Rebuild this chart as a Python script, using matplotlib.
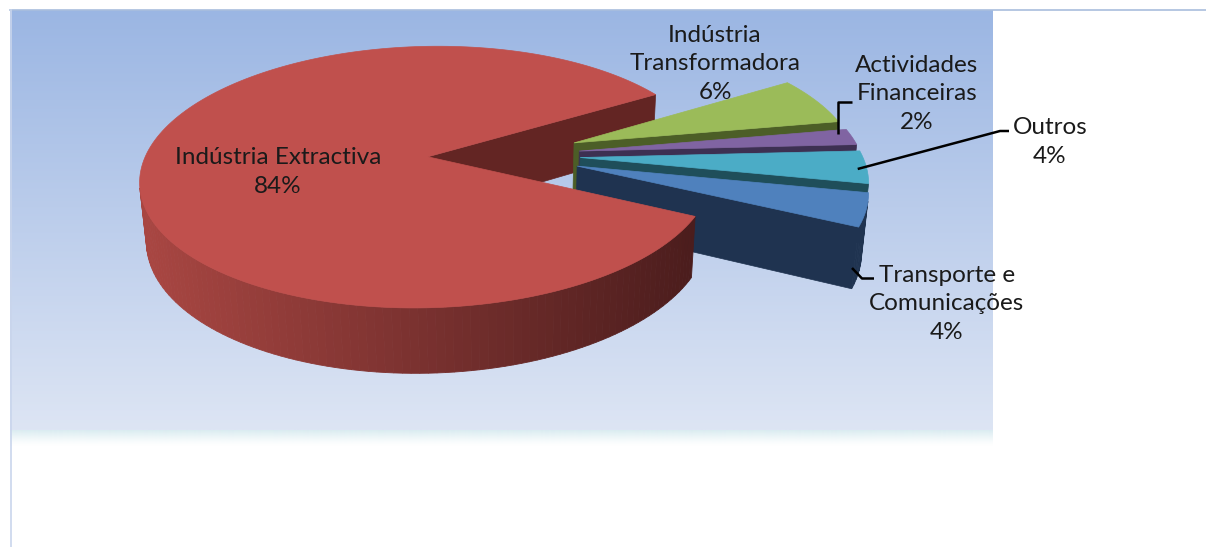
import numpy as np
import matplotlib
matplotlib.use("Agg")
import matplotlib.pyplot as plt
from matplotlib.patches import Polygon

# ---------------- data ----------------
categories = ["Transporte e\nComunicações", "Indústria Extractiva",
              "Indústria\nTransformadora", "Actividades\nFinanceiras", "Outros"]
values = [4, 84, 6, 2, 4]
pct_labels = ["4%", "84%", "6%", "2%", "4%"]

top_colors = ["#4F81BD", "#C0504D", "#9BBB59", "#8064A2", "#4BACC6"]
side_colors = ["#1F3350", "#632523", "#4C5E27", "#3D3052", "#1F4E5A"]

# ---------------- geometry ----------------
W, H = 1206, 547
fig = plt.figure(figsize=(W / 100, H / 100), dpi=100)
ax = fig.add_axes([0, 0, 1, 1])
ax.set_xlim(0, W)
ax.set_ylim(H, 0)
ax.axis("off")

# background gradient panel
grad = np.linspace(0, 1, 256)[:, None]
c_top = np.array([0x9B, 0xB6, 0xE3]) / 255
c_bot = np.array([0xDD, 0xE5, 0xF4]) / 255
img = c_top[None, None, :] * (1 - grad[..., None]) + c_bot[None, None, :] * grad[..., None]
img = np.repeat(img, 2, axis=1)
ax.imshow(img, extent=[10, 993, 430, 10], aspect="auto", zorder=0, interpolation="bilinear")
# soft glow at the bottom of the panel
g = np.linspace(0, 1, 64)
glow = np.zeros((64, 2, 4))
glow[..., 0], glow[..., 1], glow[..., 2] = 0xDA / 255, 0xEC / 255, 0xF1 / 255
glow[..., 3] = np.clip(1 - g, 0, 1)[:, None] ** 1.3
ax.imshow(glow, extent=[10, 993, 446, 430], aspect="auto", zorder=0.5, interpolation="bilinear")
ax.plot([10, W], [10, 10], color="#A9BEDD", lw=1.2, zorder=5)
ax.plot([10.5, 10.5], [10, H], color="#C9D5EC", lw=1.2, zorder=5)

# 3D projection
cx, cy, K = 504.0, 155.0, 282.0
elev = np.radians(26.8)
Dcam = 5.77
depth = 0.235
explode = 0.27
se, ce = np.sin(elev), np.cos(elev)
cam = np.array([0.0, -Dcam * ce, Dcam * se])


def proj(X, Y, Z):
    v = Y * se + Z * ce
    w = Y * ce - Z * se
    s = Dcam / (Dcam + w)
    return cx + K * X * s, cy - K * v * s


def poly2d(pts3):
    return np.array([proj(*p) for p in pts3])


def visible(pts3, normal):
    c = np.mean(np.array(pts3), axis=0)
    return np.dot(normal, cam - c) > 0


def shade_red(x):
    lt = np.array([0xA8, 0x46, 0x42]) / 255
    dk = np.array([0x4A, 0x1C, 0x1C]) / 255
    t = np.clip((x - 150) / (700 - 150), 0, 1)
    return lt * (1 - t) + dk * t


# slice angles (clockwise, start at -11.4 deg)
start = -11.4
total = float(sum(values))
angles = []
a = start
for v in values:
    span = 360.0 * v / total
    angles.append((a, a - span))
    a -= span


def slice_faces(i):
    a0, a1 = np.radians(angles[i][0]), np.radians(angles[i][1])
    bis = 0.5 * (a0 + a1)
    ox, oy = explode * np.cos(bis), explode * np.sin(bis)
    n = max(8, int(abs(np.degrees(a0 - a1)) / 1.5))
    ts = np.linspace(a0, a1, n)
    rim = [(ox + np.cos(t), oy + np.sin(t)) for t in ts]
    top = [(ox, oy, 0.0)] + [(x, y, 0.0) for x, y in rim]
    cuts = []
    for t, nrm in ((a0, np.array([-np.sin(a0), np.cos(a0), 0])),
                   (a1, np.array([np.sin(a1), -np.cos(a1), 0]))):
        p = [(ox, oy, 0.0), (ox + np.cos(t), oy + np.sin(t), 0.0),
             (ox + np.cos(t), oy + np.sin(t), -depth), (ox, oy, -depth)]
        if visible(p, nrm):
            cuts.append(p)
    sides = []
    for k in range(n - 1):
        t0, t1 = ts[k], ts[k + 1]
        p = [(ox + np.cos(t0), oy + np.sin(t0), 0.0), (ox + np.cos(t1), oy + np.sin(t1), 0.0),
             (ox + np.cos(t1), oy + np.sin(t1), -depth), (ox + np.cos(t0), oy + np.sin(t0), -depth)]
        tm = 0.5 * (t0 + t1)
        if visible(p, np.array([np.cos(tm), np.sin(tm), 0])):
            sides.append(p)
    return top, cuts, sides, (ox, oy, bis)


z = 1.0
faces = {i: slice_faces(i) for i in range(len(values))}
big = int(np.argmax(values))

# big slice's cut faces first (they sit behind the exploded small slices)
for p in faces[big][1]:
    ax.add_patch(Polygon(poly2d(p), closed=True, fc=side_colors[big], ec=side_colors[big], lw=0.5, zorder=z))
z += 1

# small slices back to front
small = [i for i in range(len(values)) if i != big]
small.sort(key=lambda i: -np.sin(faces[i][3][2]))
for i in small:
    top, cuts, sides, _ = faces[i]
    for p in cuts + sides:
        ax.add_patch(Polygon(poly2d(p), closed=True, fc=side_colors[i], ec=side_colors[i], lw=0.5, zorder=z))
    ax.add_patch(Polygon(poly2d(top), closed=True, fc=top_colors[i], ec=top_colors[i], lw=0.5, zorder=z + 0.5))
    z += 1

# big slice outer side & top
top, cuts, sides, _ = faces[big]
for p in sides:
    q = poly2d(p)
    col = shade_red(q[:, 0].mean())
    ax.add_patch(Polygon(q, closed=True, fc=col, ec=col, lw=0.6, zorder=z))
ax.add_patch(Polygon(poly2d(top), closed=True, fc=top_colors[big], ec=top_colors[big], lw=0.5, zorder=z + 0.5))
z += 1

# ---------------- labels ----------------
font = dict(family=["Lato", "DejaVu Sans"], fontsize=17.5, color="#1a1a1a", ha="center", va="center",
            linespacing=1.42, zorder=z + 2)
label_pos = {0: (947, 304), 1: (278, 172), 2: (715, 64), 3: (917, 94), 4: (1050, 142)}
for i, (x, y) in label_pos.items():
    ax.text(x, y, f"{categories[i]}\n{pct_labels[i]}", **font)


def rim_point(i, frac_z=0.0):
    ox, oy, bis = faces[i][3]
    return proj(ox + np.cos(bis), oy + np.sin(bis), -depth * frac_z)


lk = dict(color="black", lw=1.8, zorder=z + 1, solid_capstyle="butt")
# Financeiras
x0, y0 = rim_point(3)
ax.plot([838, 838, 852], [y0 - 3, 101.5, 101.5], **lk)
# Outros
x0, y0 = rim_point(4, 0.1)
ax.plot([x0 - 8, 1000, 1009], [y0 - 4, 131, 131], **lk)
# Transporte
ax.plot([852, 862, 874], [268, 278.5, 278.5], **lk)

fig.savefig("out.png", dpi=100)
